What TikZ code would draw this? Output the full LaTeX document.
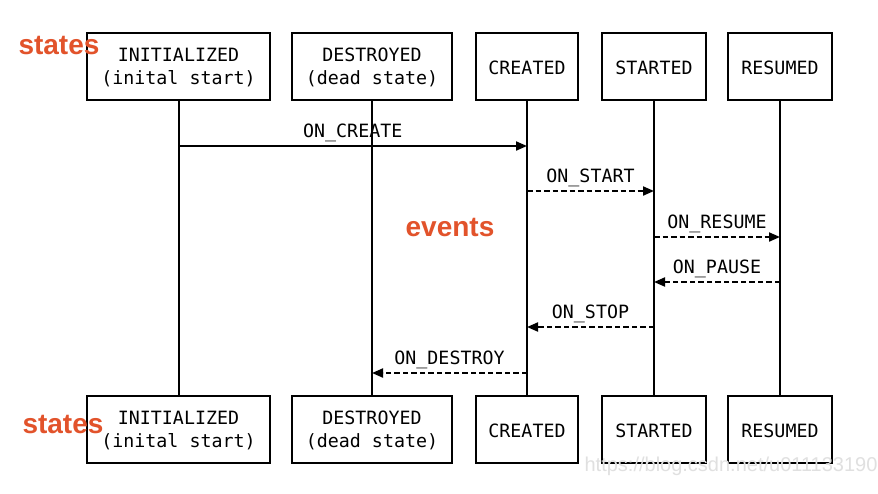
\documentclass[tikz,border=0pt]{standalone}
\usepackage{fontspec}
\setmonofont{DejaVu Sans Mono}
\newfontfamily\tagfont{Liberation Sans}
\usetikzlibrary{arrows.meta}
\definecolor{tagred}{HTML}{E2532B}
\begin{document}
\begin{tikzpicture}[x=1pt,y=-1pt,
  statebox/.style={draw=black, line width=2.4pt, minimum height=67pt, inner sep=0pt,
    align=center, font=\ttfamily\fontsize{18.3}{23}\selectfont},
  onebox/.style={statebox, text height=19pt, text depth=4pt},
  life/.style={line width=2pt},
  msg/.style={line width=2pt, -{Triangle[length=11pt,width=9pt]}},
  dmsg/.style={msg, dash pattern=on 5.5pt off 3pt},
  lbl/.style={midway, anchor=base, yshift=9pt, inner sep=0pt,
    font=\ttfamily\fontsize{18.3}{21}\selectfont},
  tag/.style={font=\tagfont\bfseries\fontsize{28}{30}\selectfont, text=tagred, inner sep=0pt}]
\useasboundingbox (0,0) rectangle (878,493);
\fill[white] (0,0) rectangle (878,493);
% top states
\node[statebox, minimum width=183pt] (initT) at (178.5,66.5) {\strut INITIALIZED\\(inital start)};
\node[statebox, minimum width=160pt] (desT) at (372,66.5) {\strut DESTROYED\\(dead state)};
\node[onebox, minimum width=102pt] (creT) at (527,66.5) {CREATED};
\node[onebox, minimum width=104pt] (staT) at (654,66.5) {STARTED};
\node[onebox, minimum width=104pt] (resT) at (780,66.5) {RESUMED};
% bottom states
\node[statebox, minimum width=183pt] (initB) at (178.5,429.5) {\strut INITIALIZED\\(inital start)};
\node[statebox, minimum width=160pt] (desB) at (372,429.5) {\strut DESTROYED\\(dead state)};
\node[onebox, minimum width=102pt] (creB) at (527,429.5) {CREATED};
\node[onebox, minimum width=104pt] (staB) at (654,429.5) {STARTED};
\node[onebox, minimum width=104pt] (resB) at (780,429.5) {RESUMED};
% lifelines
\draw[life] (initT) -- (initB);
\draw[life] (desT) -- (desB);
\draw[life] (creT) -- (creB);
\draw[life] (staT) -- (staB);
\draw[life] (resT) -- (resB);
% rows
\coordinate (r1) at (0,146);
\coordinate (r2) at (0,191);
\coordinate (r3) at (0,237);
\coordinate (r4) at (0,282);
\coordinate (r5) at (0,327);
\coordinate (r6) at (0,373);
% events
\draw[msg] (initT |- r1) -- (creT |- r1) node[lbl] {ON\_CREATE};
\draw[dmsg] (creT |- r2) -- (staT |- r2) node[lbl] {ON\_START};
\draw[dmsg] (staT |- r3) -- (resT |- r3) node[lbl] {ON\_RESUME};
\draw[dmsg] (resT |- r4) -- (staT |- r4) node[lbl] {ON\_PAUSE};
\draw[dmsg] (staT |- r5) -- (creT |- r5) node[lbl] {ON\_STOP};
\draw[dmsg] (creT |- r6) -- (desT |- r6) node[lbl] {ON\_DESTROY};
% tags
\node[tag] (s1) at (59,46) {states};
\node[tag] (s2) at (63,424) {states};
\node[tag] (ev) at (450,227) {events};
% watermark
\node[font=\tagfont\fontsize{20}{22}\selectfont, text=black!12, inner sep=0pt] (wm) at (731,466) {https://blog.csdn.net/u011133190};
\end{tikzpicture}
\end{document}
